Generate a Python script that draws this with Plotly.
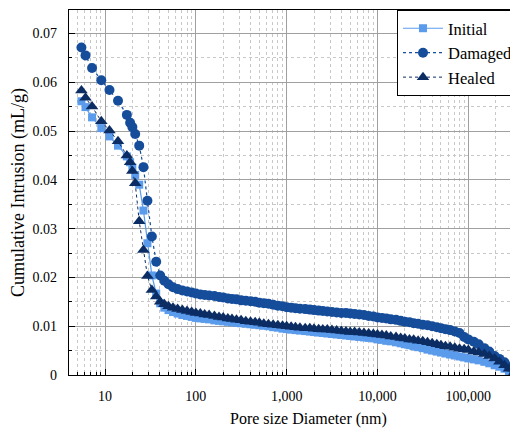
import numpy as np
import plotly.graph_objects as go

pore_nm = [5.5, 6.1, 7.2, 9.1, 11.2, 13.9, 17.4, 18.9, 20.0, 21.5, 23.8, 26.5, 29.3, 32.8, 36.6, 40.5,
           45, 50, 56, 63, 71, 80, 90, 100, 112, 125, 140, 160, 180, 200, 225, 250, 280, 315, 355,
           400, 450, 500, 560, 630, 710, 800, 900, 1000, 1120, 1250, 1400, 1600, 1800, 2000, 2250,
           2500, 2800, 3150, 3550, 4000, 4500, 5000, 5600, 6300, 7100, 8000, 9000, 10000, 11200,
           12500, 14000, 16000, 18000, 20000, 22500, 25000, 28000, 31500, 35500, 40000, 45000,
           50000, 56000, 63000, 71000, 80000, 90000, 100000, 115000, 130000, 150000, 170000,
           195000, 220000, 250000, 280000, 320000]

initial = [0.0561, 0.0549, 0.0528, 0.0506, 0.0489, 0.0470, 0.0448, 0.0436, 0.0425, 0.0410, 0.0390,
           0.0337, 0.0270, 0.0204, 0.0167, 0.0147,
           0.0138, 0.0133, 0.0129, 0.0126, 0.0123, 0.0121, 0.0119, 0.0117, 0.0116, 0.0115, 0.0114,
           0.0112, 0.0111, 0.0110, 0.0109, 0.0108, 0.0107, 0.0106, 0.0105,
           0.0104, 0.0103, 0.0102, 0.0101, 0.0100, 0.0098, 0.0097, 0.0095, 0.0094, 0.0093, 0.0092,
           0.0091, 0.0090, 0.0089, 0.0088, 0.0087,
           0.0086, 0.0085, 0.0084, 0.0083, 0.0082, 0.0081, 0.0080, 0.0079, 0.0078, 0.0077, 0.0076,
           0.0075, 0.0073, 0.0072,
           0.0070, 0.0069, 0.0067, 0.0065, 0.0063, 0.0061, 0.0059, 0.0057, 0.0055, 0.0052, 0.0050,
           0.0048,
           0.0046, 0.0044, 0.0042, 0.0040, 0.0038, 0.0036, 0.0034, 0.0032, 0.0030, 0.0027, 0.0024,
           0.0020, 0.0017, 0.0013, 0.0008, 0.0002]

damaged = [0.0671, 0.0655, 0.0629, 0.0604, 0.0584, 0.0562, 0.0533, 0.0517, 0.0508, 0.0494, 0.0470,
           0.0426, 0.0357, 0.0284, 0.0232, 0.0204,
           0.0193, 0.0186, 0.0180, 0.0176, 0.0173, 0.0171, 0.0169, 0.0167, 0.0165, 0.0164, 0.0163,
           0.0162, 0.0160, 0.0159, 0.0157, 0.0156, 0.0155, 0.0153, 0.0152,
           0.0151, 0.0150, 0.0148, 0.0147, 0.0146, 0.0144, 0.0142, 0.0141, 0.0139, 0.0138, 0.0137,
           0.0136, 0.0135, 0.0134, 0.0133, 0.0132,
           0.0131, 0.0130, 0.0129, 0.0128, 0.0127, 0.0127, 0.0126, 0.0125, 0.0124, 0.0123, 0.0121,
           0.0120, 0.0118, 0.0117,
           0.0116, 0.0114, 0.0113, 0.0111, 0.0109, 0.0108, 0.0106, 0.0105, 0.0103, 0.0102, 0.0100,
           0.0098,
           0.0096, 0.0094, 0.0092, 0.0089, 0.0086, 0.0078, 0.0073, 0.0068, 0.0063, 0.0055, 0.0048,
           0.0039, 0.0033, 0.0026, 0.0017, 0.0005]

healed = [0.0583, 0.0568, 0.0550, 0.0520, 0.0501, 0.0479, 0.0450, 0.0436, 0.0418, 0.0393, 0.0315,
          0.0256, 0.0203, 0.0174, 0.0161, 0.0150,
          0.0145, 0.0141, 0.0138, 0.0135, 0.0133, 0.0131, 0.0129, 0.0127, 0.0126, 0.0124, 0.0123,
          0.0121, 0.0119, 0.0118, 0.0116, 0.0115, 0.0113, 0.0112, 0.0110,
          0.0109, 0.0108, 0.0107, 0.0105, 0.0104, 0.0103, 0.0102, 0.0101, 0.0100, 0.0099, 0.0098,
          0.0097, 0.0096, 0.0096, 0.0095, 0.0094,
          0.0093, 0.0093, 0.0092, 0.0091, 0.0090, 0.0089, 0.0088, 0.0088, 0.0087, 0.0086, 0.0085,
          0.0084, 0.0083, 0.0082,
          0.0081, 0.0079, 0.0078, 0.0076, 0.0075, 0.0073, 0.0072, 0.0070, 0.0069, 0.0067, 0.0065,
          0.0063,
          0.0061, 0.0059, 0.0058, 0.0056, 0.0054, 0.0053, 0.0051, 0.0048, 0.0046, 0.0043, 0.0039,
          0.0034, 0.0027, 0.0020, 0.0013, 0.0005]

x_tick_vals = [10, 100, 1000, 10000, 100000]
x_tick_text = ["10", "100", "1,000", "10,000", "100,000"]
y_tick_vals = [0, 0.01, 0.02, 0.03, 0.04, 0.05, 0.06, 0.07]
y_tick_text = ["0", "0.01", "0.02", "0.03", "0.04", "0.05", "0.06", "0.07"]

c_init = "#5B9BEC"
c_dam = "#154D9B"
c_heal = "#0B2D63"
FONT = "Liberation Serif, Times New Roman, serif"

fig = go.Figure()
fig.add_trace(go.Scatter(x=pore_nm, y=initial, name="Initial", mode="lines+markers",
                         line=dict(color=c_init, width=1.2),
                         marker=dict(symbol="square", size=8, color=c_init)))
fig.add_trace(go.Scatter(x=pore_nm, y=damaged, name="Damaged", mode="lines+markers",
                         line=dict(color=c_dam, width=1.2, dash="dot"),
                         marker=dict(symbol="circle", size=10, color=c_dam)))
fig.add_trace(go.Scatter(x=pore_nm, y=healed, name="Healed", mode="lines+markers",
                         line=dict(color=c_heal, width=1, dash="dot"),
                         marker=dict(symbol="triangle-up", size=11, color=c_heal)))

minor_x = [m * 10 ** d for d in range(0, 6) for m in range(2, 10)]

fig.update_xaxes(type="log", range=[0.6035, 5.547], automargin=False,
                 tickvals=x_tick_vals, ticktext=x_tick_text,
                 showline=True, linecolor="black", linewidth=1.2, mirror=True,
                 ticks="inside", ticklen=6, tickcolor="black", ticklabelstandoff=8,
                 showgrid=True, gridcolor="#a0a0a0", gridwidth=1,
                 minor=dict(tickvals=minor_x, ticks="inside", ticklen=3, tickcolor="black",
                            showgrid=True, gridcolor="#c8c8c8", griddash="dot", gridwidth=1),
                 tickfont=dict(size=14, family=FONT, color="black"), zeroline=False)
fig.update_yaxes(range=[0, 0.0748], automargin=False,
                 tickvals=y_tick_vals, ticktext=y_tick_text,
                 showline=True, linecolor="black", linewidth=1.2, mirror=True,
                 ticks="inside", ticklen=6, tickcolor="black", ticklabelstandoff=8,
                 showgrid=True, gridcolor="#a0a0a0", gridwidth=1,
                 minor=dict(dtick=0.005, ticks="inside", ticklen=3, tickcolor="black",
                            showgrid=True, gridcolor="#c8c8c8", griddash="dot", gridwidth=1),
                 title=dict(text="Cumulative Intrusion (mL/g)", font=dict(size=18, family=FONT, color="black"),
                            standoff=3),
                 tickfont=dict(size=14, family=FONT, color="black"), zeroline=False)

fig.add_annotation(text="Pore size Diameter (nm)", xref="paper", yref="paper",
                   x=0.5345, y=-0.12, xanchor="center", yanchor="middle", showarrow=False,
                   font=dict(size=16, family=FONT, color="black"))

# page body has an 8px default margin, so the figure is sized/offset to compensate
fig.update_layout(width=510, height=426, margin=dict(l=61, r=0, t=2, b=59),
                  plot_bgcolor="white", paper_bgcolor="white",
                  font=dict(family=FONT, color="black"),
                  legend=dict(x=1, xanchor="right", y=1, yanchor="top",
                              bgcolor="white", bordercolor="black", borderwidth=1,
                              font=dict(size=16.5, family=FONT, color="black"),
                              tracegroupgap=0, itemwidth=40))

fig.write_html("out.html")
